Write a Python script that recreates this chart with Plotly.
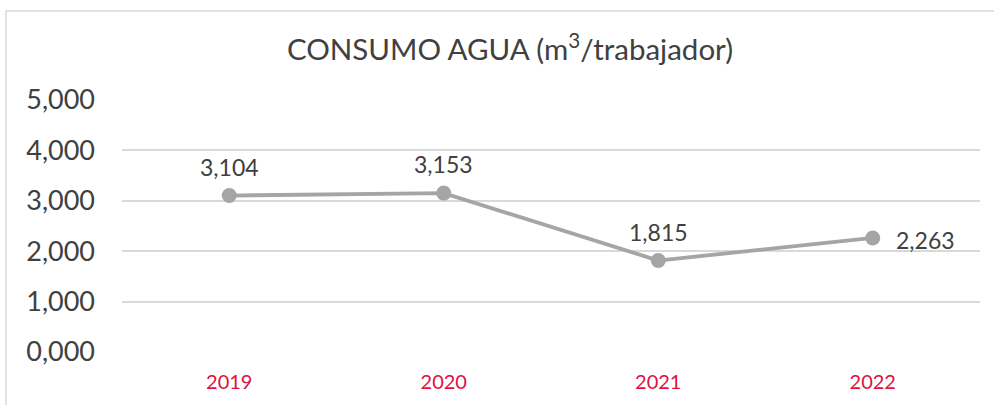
import plotly.graph_objects as go

years = ["2019", "2020", "2021", "2022"]
values = [3104, 3153, 1815, 2263]
labels = ["3,104", "3,153", "1,815", "2,263"]
label_side = ["top", "top", "top", "right"]
y_ticks = [0, 1000, 2000, 3000, 4000, 5000]
y_tick_text = ["0,000", "1,000", "2,000", "3,000", "4,000", "5,000"]

W, H = 994, 405
L, R, T, B = 122, 14, 100, 53
pw, ph = W - L - R, H - T - B

fig = go.Figure()
fig.add_trace(go.Scatter(
    x=years, y=values, mode="lines+markers",
    line=dict(color="#A5A5A5", width=3.8),
    marker=dict(color="#A5A5A5", size=15),
    cliponaxis=False, showlegend=False, hoverinfo="skip",
))

annotations = []
for i, (yv, t, side) in enumerate(zip(values, labels, label_side)):
    if side == "top":
        annotations.append(dict(x=i, y=yv, xref="x", yref="y", text=t, showarrow=False,
                                xanchor="center", yanchor="middle", yshift=29,
                                font=dict(family="Lato", size=23, color="#404040")))
    else:
        annotations.append(dict(x=i, y=yv, xref="x", yref="y", text=t, showarrow=False,
                                xanchor="left", yanchor="middle", xshift=21, yshift=-2,
                                font=dict(family="Lato", size=23, color="#404040")))

fig.update_layout(
    width=W, height=H,
    margin=dict(l=L, r=R, t=T, b=B),
    paper_bgcolor="white", plot_bgcolor="white",
    font=dict(family="Lato", color="#404040"),
    title=dict(text="CONSUMO AGUA (m<sup>3</sup>/trabajador)", x=510 / W, xanchor="center",
               xref="container", y=1 - 50 / H, yanchor="middle", yref="container",
               font=dict(family="Lato", size=29.5, color="#404040")),
    xaxis=dict(type="category", range=[-0.5, 3.5], showgrid=False, showline=False,
               zeroline=False, ticks="", ticklabelstandoff=16,
               tickfont=dict(family="Lato", size=20, color="#E0103F")),
    yaxis=dict(range=[0, 5000], tickvals=y_ticks, ticktext=y_tick_text,
               showgrid=True, gridcolor="#D9D9D9", gridwidth=2, zeroline=False,
               showline=False, ticks="", ticklabelstandoff=26,
               tickfont=dict(family="Lato", size=27, color="#404040")),
    annotations=annotations,
    shapes=[dict(type="rect", xref="paper", yref="paper",
                 x0=(6 - L) / pw, x1=(W + 10 - L) / pw,
                 y0=-(H + 10 - (H - B)) / ph, y1=((H - B) - 11) / ph,
                 line=dict(color="#D9D9D9", width=1.5), fillcolor="rgba(0,0,0,0)",
                 layer="below")],
)

fig.write_html("out.html", config={"displayModeBar": False},
               post_script="document.body.style.margin='0';")
